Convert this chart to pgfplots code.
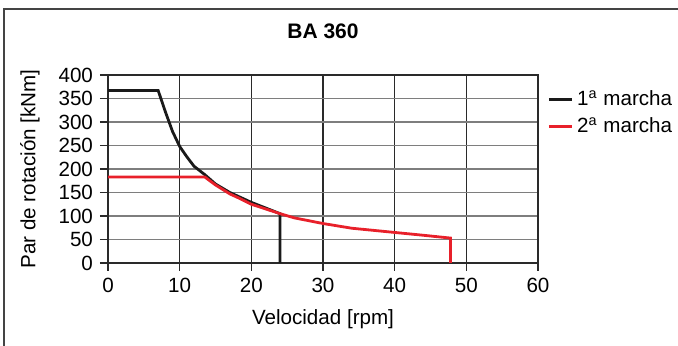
\documentclass[border=0pt]{standalone}
\usepackage{pgfplots}
\pgfplotsset{compat=1.18}
\usepackage{fontspec}
\setmainfont{Liberation Sans}
\definecolor{curvered}{HTML}{E8202A}
\definecolor{curveblack}{HTML}{1A1A1A}
\definecolor{hgrid}{HTML}{7E7E7E}
\definecolor{vgrid}{HTML}{2A2A2A}
\definecolor{frame}{HTML}{444444}
\begin{document}
\begin{tikzpicture}
\useasboundingbox (-54pt,-41.5pt) rectangle (285pt,131.5pt);
\begin{axis}[
  at={(0,0)}, anchor=south west,
  scale only axis, width=215pt, height=94pt,
  xmin=0, xmax=60, ymin=0, ymax=400,
  xtick={0,10,...,60}, ytick={0,50,...,400},
  font=\fontsize{10.3}{12}\selectfont,
  /pgf/number format/assume math mode=true,
  grid=major,
  x grid style={vgrid, line width=0.6pt},
  y grid style={hgrid, line width=0.9pt},
  axis line style={vgrid, line width=0.6pt},
  tick align=outside, xtick pos=left, ytick pos=left,
  major tick length=4pt,
  tick style={vgrid, line width=0.6pt},
  title={\textbf{BA 360}},
  title style={at={(rel axis cs:0.5,1.17)}, anchor=center, font=\fontsize{10.5}{12}\selectfont},
  xlabel={Velocidad [rpm]},
  xlabel style={at={(rel axis cs:0.5,-0.298)}, anchor=center},
  ylabel={Par de rotación [kNm]},
  ylabel style={at={(rel axis cs:-0.1814,0.5)}, anchor=center, rotate=0},
  legend style={draw=none, fill=none, at={(rel axis cs:1,1)}, anchor=north west,
    xshift=1.5pt, yshift=-3.5pt, row sep=0.5pt, font=\fontsize{10.3}{12}\selectfont,
    legend cell align=left},
  legend image code/.code={\draw[#1] (0pt,0pt) -- (11.5pt,0pt);},
]
\addplot[curveblack, line width=1.4pt] coordinates {
  (0,367) (7,367) (8,322) (9,280) (10,248) (11,226) (12,206) (13.5,188)
  (15,168) (17,150) (20,129) (22,117) (24,105) (24,0)
};
\addlegendentry{1\textsuperscript{a} marcha}
\addplot[curvered, line width=1.4pt] coordinates {
  (0,183) (13.5,183) (15,166) (17,147) (18,140) (20,125) (22,115) (24,105)
  (26,96) (30,84) (34,74) (40,65) (44,59) (47.8,53) (47.8,0)
};
\addlegendentry{2\textsuperscript{a} marcha}
\end{axis}
\begin{scope}
\clip (-54pt,-41.5pt) rectangle (285pt,131.5pt);
\draw[frame, line width=1pt] (-52pt,-60pt) -- (-52pt,127pt) -- (300pt,127pt);
\end{scope}
\end{tikzpicture}
\end{document}
